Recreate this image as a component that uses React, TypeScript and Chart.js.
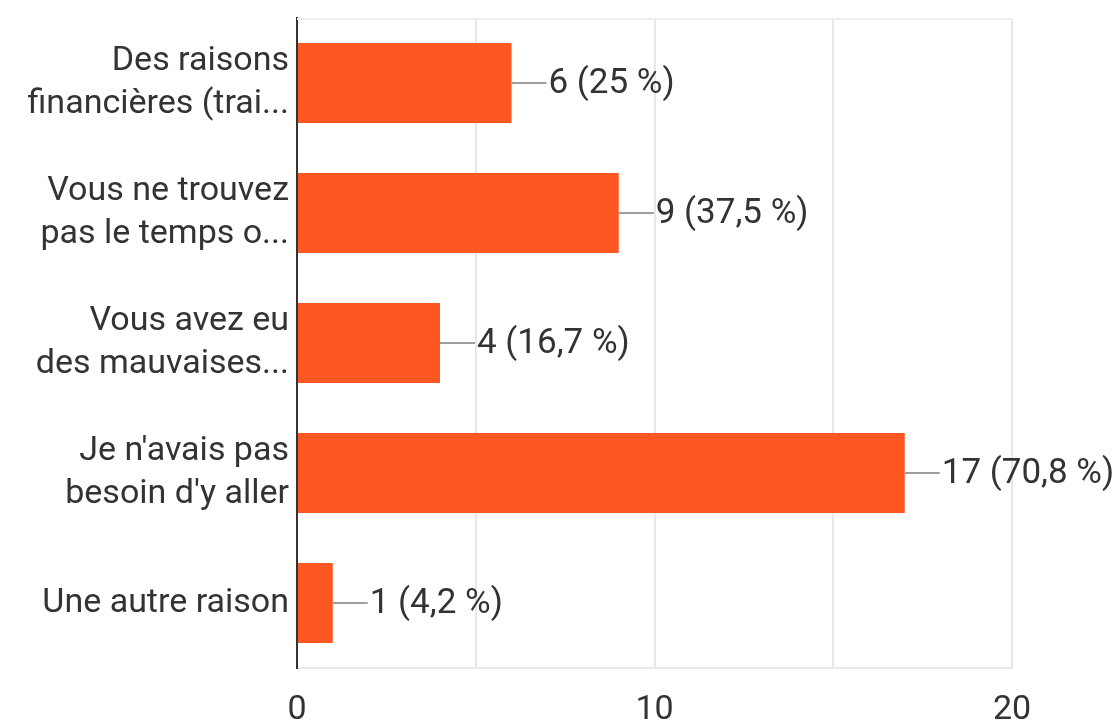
import React, { useEffect, useRef } from "react";
import { Chart, registerables } from "chart.js";

Chart.register(...registerables);

const categories: string[][] = [
  ["Des raisons", "financières (trai..."],
  ["Vous ne trouvez", "pas le temps o..."],
  ["Vous avez eu", "des mauvaises..."],
  ["Je n'avais pas", "besoin d'y aller"],
  ["Une autre raison"],
];
const counts: number[] = [6, 9, 4, 17, 1];
const valueLabels: string[] = ["6 (25 %)", "9 (37,5 %)", "4 (16,7 %)", "17 (70,8 %)", "1 (4,2 %)"];
const xTickLabels: number[] = [0, 10, 20];

const FONT = "Roboto";
const TEXT = "#333333";

const topLinePlugin = {
  id: "topLine",
  beforeDatasetsDraw(chart: any) {
    const { ctx, chartArea } = chart;
    ctx.save();
    ctx.strokeStyle = "#efefef";
    ctx.lineWidth = 2;
    ctx.beginPath();
    ctx.moveTo(chartArea.left, chartArea.top + 1);
    ctx.lineTo(chartArea.right, chartArea.top + 1);
    ctx.stroke();
    ctx.restore();
  },
};

const leaderPlugin = {
  id: "leaderLabels",
  afterDatasetsDraw(chart: any) {
    const meta = chart.getDatasetMeta(0);
    const ctx = chart.ctx;
    ctx.save();
    meta.data.forEach((bar: any, i: number) => {
      const x = bar.x;
      const y = bar.y;
      ctx.strokeStyle = "#9e9e9e";
      ctx.lineWidth = 2;
      ctx.beginPath();
      ctx.moveTo(x, y);
      ctx.lineTo(x + 35, y);
      ctx.stroke();
      ctx.fillStyle = TEXT;
      ctx.font = `35px ${FONT}`;
      ctx.textAlign = "left";
      ctx.textBaseline = "middle";
      ctx.fillText(valueLabels[i], x + 37, y + 1);
    });
    ctx.restore();
  },
};

export default function App() {
  const ref = useRef<HTMLCanvasElement | null>(null);
  useEffect(() => {
    if (!ref.current) return;
    const chart = new Chart(ref.current, {
      type: "bar",
      data: {
        labels: categories as any,
        datasets: [
          {
            data: counts,
            backgroundColor: "#ff5722",
            borderWidth: 0,
            categoryPercentage: 1,
            barPercentage: 0.615,
          },
        ],
      },
      options: {
        indexAxis: "y",
        animation: false,
        responsive: true,
        maintainAspectRatio: false,
        layout: { padding: { left: 0, right: 107, top: 18, bottom: 0 } },
        plugins: {
          legend: { display: false },
          tooltip: { enabled: false },
        },
        scales: {
          x: {
            min: 0,
            max: 20,
            grid: {
              color: (c: any) => (c.tick && c.tick.value === 0 ? "rgba(0,0,0,0)" : "#e8e8e8"),
              lineWidth: 2,
              drawTicks: false,
            },
            border: { display: true, color: "#e8e8e8", width: 2 },
            ticks: {
              stepSize: 5,
              padding: 22,
              color: TEXT,
              font: { family: FONT, size: 34 },
              maxRotation: 0,
              callback: (v: any) => (xTickLabels.includes(Number(v)) ? String(v) : ""),
            },
            afterFit: (s: any) => {
              s.height = 55;
              s.paddingLeft = 0;
              s.paddingRight = 0;
            },
          },
          y: {
            z: 1,
            grid: { display: false, drawTicks: false },
            border: { display: true, color: "#333333", width: 2 },
            ticks: {
              padding: 8,
              color: TEXT,
              font: { family: FONT, size: 34, lineHeight: 1.24 },
            },
            afterFit: (s: any) => {
              s.width = 297;
              s.paddingTop = 0;
              s.paddingBottom = 0;
            },
          },
        },
      },
      plugins: [topLinePlugin, leaderPlugin],
    });
    return () => chart.destroy();
  }, []);
  return (
    <div style={{ position: "absolute", left: 0, top: 0, width: 1119, height: 723, background: "#fff" }}>
      <canvas ref={ref} />
    </div>
  );
}
